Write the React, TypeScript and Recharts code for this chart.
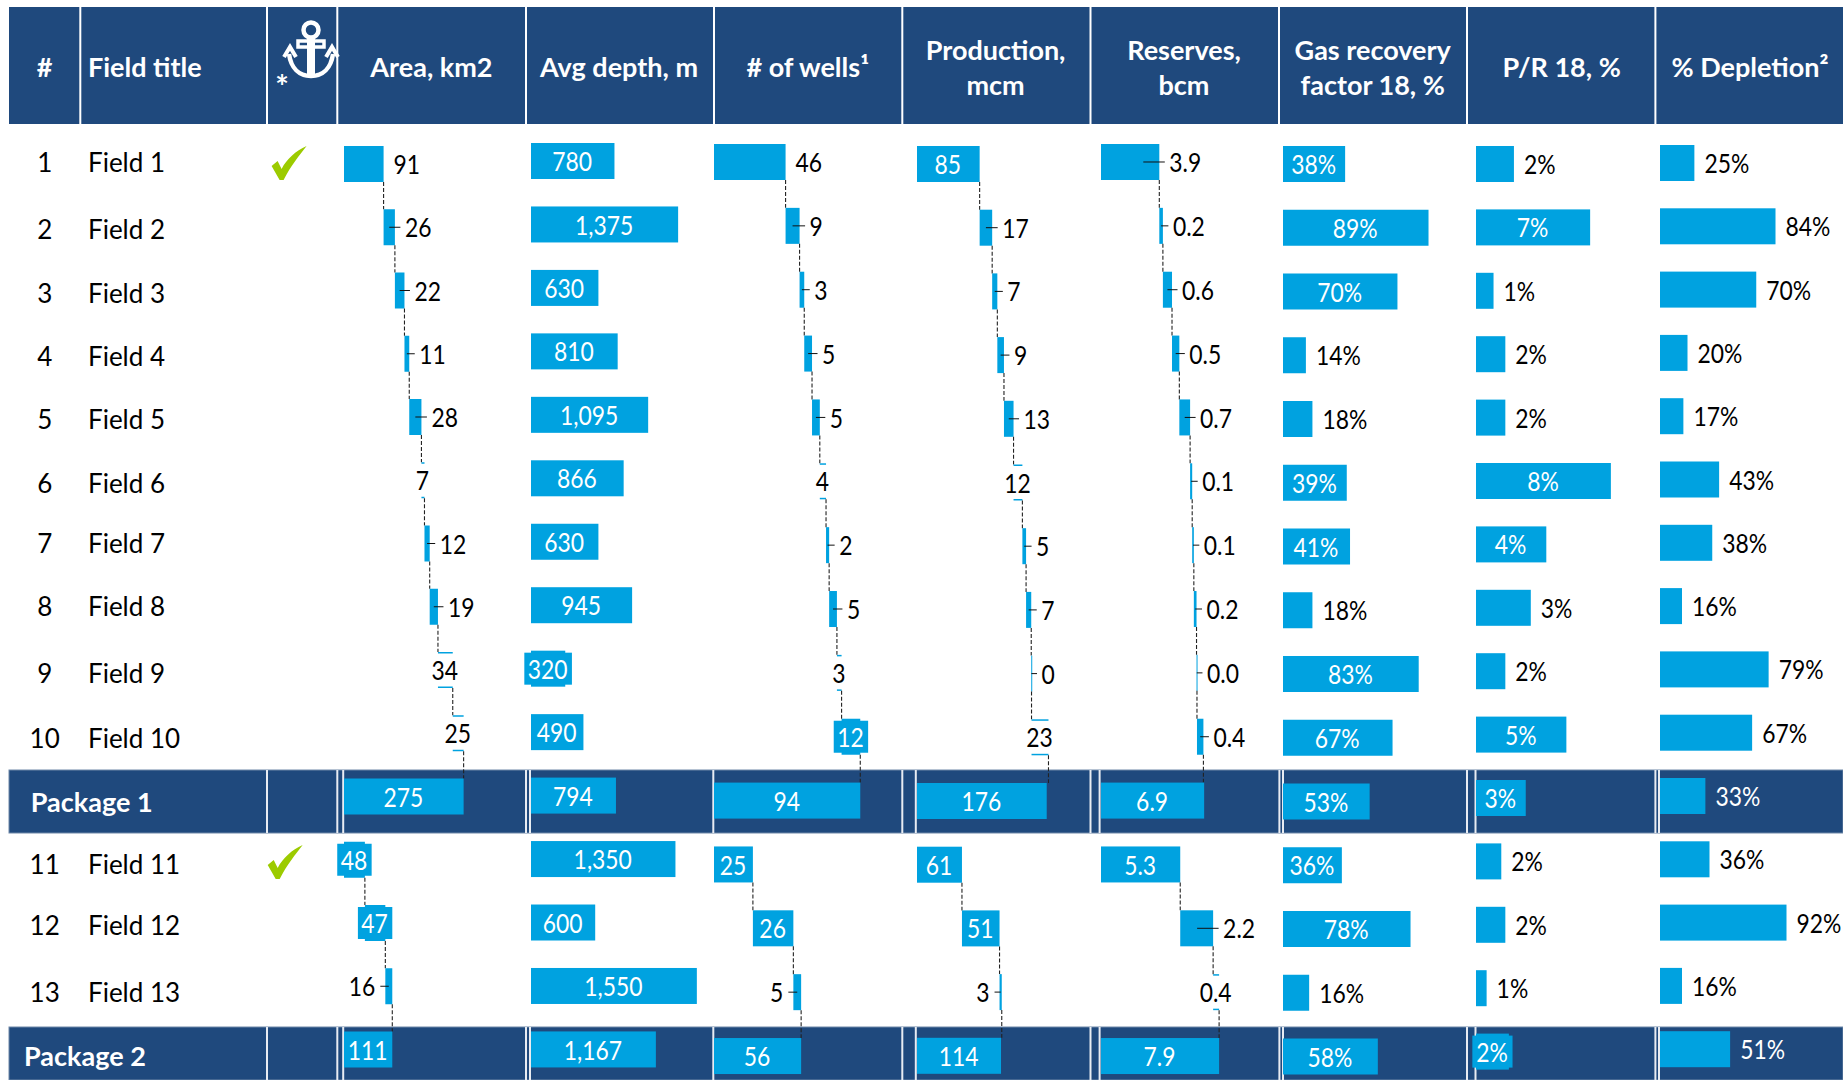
import React from 'react';
import { BarChart, Bar, XAxis, YAxis, LabelList } from 'recharts';

const rowNames = ['Field 1','Field 2','Field 3','Field 4','Field 5','Field 6','Field 7','Field 8','Field 9','Field 10','Package 1','Field 11','Field 12','Field 13','Package 2'];
const rowNumbers = ['1','2','3','4','5','6','7','8','9','10','','11','12','13',''];
const rowTextY = [162,229,293,356,419,483,543,606,673,738,801,864,925,992,1055];

const areaValues = [91,26,22,11,28,7,12,19,34,25,275,48,47,16,111];
const depthValues = [780,1375,630,810,1095,866,630,945,320,490,794,1350,600,1550,1167];
const wellsValues = [46,9,3,5,5,4,2,5,3,12,94,25,26,5,56];
const productionValues = [85,17,7,9,13,12,5,7,0.4,23,176,61,51,3,114];
const reservesValues = [3.9,0.24,0.61,0.49,0.72,0.14,0.11,0.18,0.03,0.43,6.9,5.3,2.2,0.4,7.9];
const recoveryValues = [38,89,70,14,18,39,41,18,83,67,53,36,78,16,58];
const prValues = [2.25,6.77,1.04,1.74,1.74,8.0,4.17,3.25,1.74,5.36,2.95,1.5,1.74,0.63,1.95];
const depletionValues = [25,84,70,20,17,43,38,16,79,67,33,36,92,16,51];

// label placement per row: i inside, r right, t right with leader, c centred on white, l left with leader
const areaModes = ['r','t','t','t','t','c','t','t','c','c','i','i','i','l','i'];
const depthModes = ['i','i','i','i','i','i','i','i','i','i','i','i','i','i','i'];
const wellsModes = ['r','t','t','t','t','c','t','t','c','i','i','i','i','l','i'];
const productionModes = ['i','t','t','t','t','c','t','t','t','c','i','i','i','l','i'];
const reservesModes = ['t','t','t','t','t','t','t','t','t','t','i','i','t','c','i'];
const recoveryModes = ['i','i','i','r','r','i','i','r','i','i','i','i','i','r','i'];
const prModes = ['r','i','r','r','r','i','i','r','r','i','i','r','r','r','i'];
const depletionModes = ['r','r','r','r','r','r','r','r','r','r','r','r','r','r','r'];

const packageRows = [10, 14];
const BLUE = '#00A2E0';
const NAVY = '#1F497D';
const SX = 0.88;
const FONT = 'Lato, sans-serif';
const BAR_H = 36;
const PAD_LEFT = 30;
const CHART_W = 215;

const int = (v: number) => String(Math.round(v));
const thousands = (v: number) => v.toLocaleString('en-US');
const oneDecimal = (v: number) => v.toFixed(1);
const percent = (v: number) => `${Math.round(v)}%`;

const offsets = (values: number[]) => {
  let sum = 0;
  return values.map((v, i) => {
    if (packageRows.includes(i)) { sum = 0; return 0; }
    const o = sum; sum += v; return o;
  });
};
const zeros = (values: number[]) => values.map(() => 0);

const columns = [
  { key: 'area', values: areaValues, modes: areaModes, fmt: int, start: 344.4, pxPerUnit: 0.435, first: 164, step: 63.25, waterfall: true },
  { key: 'depth', values: depthValues, modes: depthModes, fmt: thousands, start: 531, pxPerUnit: 0.107, first: 161, step: 63.46, waterfall: false },
  { key: 'wells', values: wellsValues, modes: wellsModes, fmt: int, start: 714, pxPerUnit: 1.556, first: 162, step: 63.86, waterfall: true },
  { key: 'production', values: productionValues, modes: productionModes, fmt: int, start: 917, pxPerUnit: 0.737, first: 164, step: 63.7, waterfall: true },
  { key: 'reserves', values: reservesValues, modes: reservesModes, fmt: oneDecimal, start: 1100.8, pxPerUnit: 14.95, first: 162, step: 63.86, waterfall: true },
  { key: 'recovery', values: recoveryValues, modes: recoveryModes, fmt: percent, start: 1283.2, pxPerUnit: 1.635, first: 164, step: 63.75, waterfall: false },
  { key: 'pr', values: prValues, modes: prModes, fmt: percent, start: 1476.3, pxPerUnit: 16.86, first: 164, step: 63.4, waterfall: false },
  { key: 'depletion', values: depletionValues, modes: depletionModes, fmt: percent, start: 1660.1, pxPerUnit: 1.375, first: 163, step: 63.3, waterfall: false },
];

const headerSingle = [
  { t: '#', x: 44.7 }, { t: 'Area, km2', x: 431.4 }, { t: 'Avg depth, m', x: 619 },
  { t: '# of wells¹', x: 807.8 }, { t: 'P/R 18, %', x: 1561.6 }, { t: '% Depletion²', x: 1750 },
];
const headerDouble = [
  { a: 'Production,', b: 'mcm', x: 995.6 }, { a: 'Reserves,', b: 'bcm', x: 1184 }, { a: 'Gas recovery', b: 'factor 18, %', x: 1372.7 },
];
const headerSeparators = [80.3, 267, 337.3, 526, 714, 902.3, 1090.5, 1279, 1467, 1655.4];
const packageSeparators = [267, 337.3, 343.2, 526, 530, 713.3, 902.3, 915.8, 1090.5, 1099.6, 1279.4, 1283, 1467, 1475.5, 1655.4, 1659];
const bands = [{ top: 770, bottom: 833 }, { top: 1027, bottom: 1080 }];
const checkRows = [{ x: 271.6, y: 146 }, { x: 267.7, y: 845 }];

const Txt = ({ x, y, children, anchor = 'start', fill = '#000', bold = false, size = 26, sx = SX }: any) => (
  <text transform={`translate(${x} ${y}) scale(${sx} 1)`} textAnchor={anchor} dominantBaseline="central"
    fontFamily={FONT} fontSize={size} fontWeight={bold ? 700 : 400} fill={fill}>{children}</text>
);

const textWidth = (s: string) => {
  let w = 0;
  for (const c of s) w += c === '%' ? 19 : c === ',' || c === '.' ? 5.5 : 13.2;
  return w;
};

const makeLabel = (col: any) => (p: any) => {
  const vb = p.viewBox || p;
  const { x, y, width, height } = { x: p.x ?? vb.x, y: p.y ?? vb.y, width: p.width ?? vb.width, height: p.height ?? vb.height };
  const i = p.index;
  const mode = col.modes[i];
  const s = col.fmt(col.values[i]);
  const onBand = packageRows.includes(i);
  const cy = y + height / 2;
  const cx = x + width / 2;
  const end = x + width;
  const w = textWidth(s);
  if (mode === 'i') {
    return (
      <g>
        {w + 6 > width ? <rect x={cx - (w + 8) / 2} y={cy - 16} width={w + 8} height={32} fill={BLUE} /> : null}
        <Txt x={cx - 0.5} y={cy} anchor="middle" fill="#fff">{s}</Txt>
      </g>
    );
  }
  if (mode === 'c') {
    const bw = Math.max(w + 8, width + 2);
    return (
      <g>
        <rect x={cx - bw / 2} y={cy - BAR_H / 2 + 1.5} width={bw} height={BAR_H - 3} fill="#fff" />
        <Txt x={cx - 0.5} y={cy} anchor="middle">{s}</Txt>
      </g>
    );
  }
  if (mode === 'r') {
    return <Txt x={end + 10} y={cy} fill={onBand ? '#fff' : '#000'}>{s}</Txt>;
  }
  if (mode === 't') {
    const x1 = Math.max(cx, end - 16);
    return (
      <g>
        <line x1={x1} x2={end + 5.5} y1={cy} y2={cy} stroke="#111" strokeWidth={1} />
        <Txt x={end + 10} y={cy}>{s}</Txt>
      </g>
    );
  }
  return (
    <g>
      <line x1={x + width / 2} x2={x - 5} y1={cy} y2={cy} stroke="#111" strokeWidth={1} />
      <Txt x={x - 10} y={cy} anchor="end">{s}</Txt>
    </g>
  );
};

const makeShape = (col: any) => (p: any) => {
  const { x, y, width, height, index } = p;
  const joins = col.waterfall && !packageRows.includes(index);
  const end = x + width;
  return (
    <g>
      <rect x={x} y={y} width={Math.max(width, 1)} height={height} fill={BLUE} />
      {joins ? <line x1={end} x2={end} y1={y + height} y2={y + col.step} stroke="#222" strokeWidth={1.1} strokeDasharray="4 2" /> : null}
    </g>
  );
};

const Column = ({ col }: any) => {
  const off = col.waterfall ? offsets(col.values) : zeros(col.values);
  const data = rowNames.map((name, i) => ({ name, offset: off[i], value: col.values[i] }));
  const height = col.step * rowNames.length;
  const plotW = CHART_W - PAD_LEFT;
  return (
    <div style={{ position: 'absolute', left: col.start - PAD_LEFT, top: col.first - col.step / 2 }}>
      <BarChart width={CHART_W} height={height} data={data} layout="vertical" barCategoryGap={0}
        margin={{ top: 0, right: 0, bottom: 0, left: PAD_LEFT }}>
        <XAxis type="number" domain={[0, plotW / col.pxPerUnit]} hide />
        <YAxis type="category" dataKey="name" hide />
        <Bar dataKey="offset" stackId="s" fill="none" barSize={BAR_H} isAnimationActive={false} />
        <Bar dataKey="value" stackId="s" barSize={BAR_H} isAnimationActive={false} shape={makeShape(col)}>
          <LabelList dataKey="value" content={makeLabel(col)} />
        </Bar>
      </BarChart>
    </div>
  );
};

const Check = ({ x, y }: any) => (
  <path transform={`translate(${x} ${y})`} fill="#9CCB00"
    d="M0 20 L6 15 L10 23 C15 13 24 5 35 0 C28 9 19 20 12 34 L8 34 Z" />
);

const Anchor = () => (
  <g fill="none" stroke="#fff" strokeWidth={4.5}>
    <circle cx={311} cy={30} r={7.5} />
    <rect x={298} y={41} width={26} height={6} fill={NAVY} strokeWidth={3.5} />
    <path d="M311 38 V74" strokeWidth={8} />
    <path d="M289 54 C291 68 299 76 311 76 C323 76 331 68 333 54" strokeWidth={4.5} />
    <path d="M284 57 L290 47 L296 57 M326 57 L332 47 L338 57" strokeWidth={4} />
  </g>
);

export default function App() {
  return (
    <div style={{ position: 'absolute', left: 0, top: 0, width: 1843, height: 1080, overflow: 'hidden', background: '#fff' }}>
      <svg width={1843} height={1080} style={{ position: 'absolute', left: 0, top: 0 }}>
        <rect x={9} y={7} width={1834} height={117} fill={NAVY} />
        {headerSeparators.map((x) => <rect key={x} x={x - 1} y={7} width={2} height={117} fill="#fff" />)}
        {bands.map((b) => (
          <g key={b.top}>
            <rect x={9} y={b.top} width={1834} height={b.bottom - b.top} fill={NAVY} stroke="#6F88A8" strokeWidth={1} />
            {packageSeparators.map((x) => <rect key={x} x={x - 1} y={b.top} width={2} height={b.bottom - b.top} fill="#E8ECF2" />)}
          </g>
        ))}
        <Anchor />
        <Txt x={282} y={86} anchor="middle" fill="#fff" bold size={32} sx={1}>*</Txt>
        <Txt x={88} y={66} fill="#fff" bold size={27} sx={1}>Field title</Txt>
        {headerSingle.map((h) => <Txt key={h.t} x={h.x} y={66} anchor="middle" fill="#fff" bold size={27} sx={1}>{h.t}</Txt>)}
        {headerDouble.map((h) => (
          <g key={h.a}>
            <Txt x={h.x} y={49} anchor="middle" fill="#fff" bold size={27} sx={1}>{h.a}</Txt>
            <Txt x={h.x} y={84} anchor="middle" fill="#fff" bold size={27} sx={1}>{h.b}</Txt>
          </g>
        ))}
        {rowNames.map((name, i) => packageRows.includes(i)
          ? <Txt key={name} x={i === 10 ? 30.8 : 24} y={rowTextY[i]} fill="#fff" bold size={27} sx={1}>{name}</Txt>
          : (
            <g key={name}>
              <Txt x={44.7} y={rowTextY[i]} anchor="middle" sx={1}>{rowNumbers[i]}</Txt>
              <Txt x={88} y={rowTextY[i]} sx={1}>{name}</Txt>
            </g>
          ))}
        {checkRows.map((c) => <Check key={c.y} x={c.x} y={c.y} />)}
      </svg>
      {columns.map((col) => <Column key={col.key} col={col} />)}
    </div>
  );
}
